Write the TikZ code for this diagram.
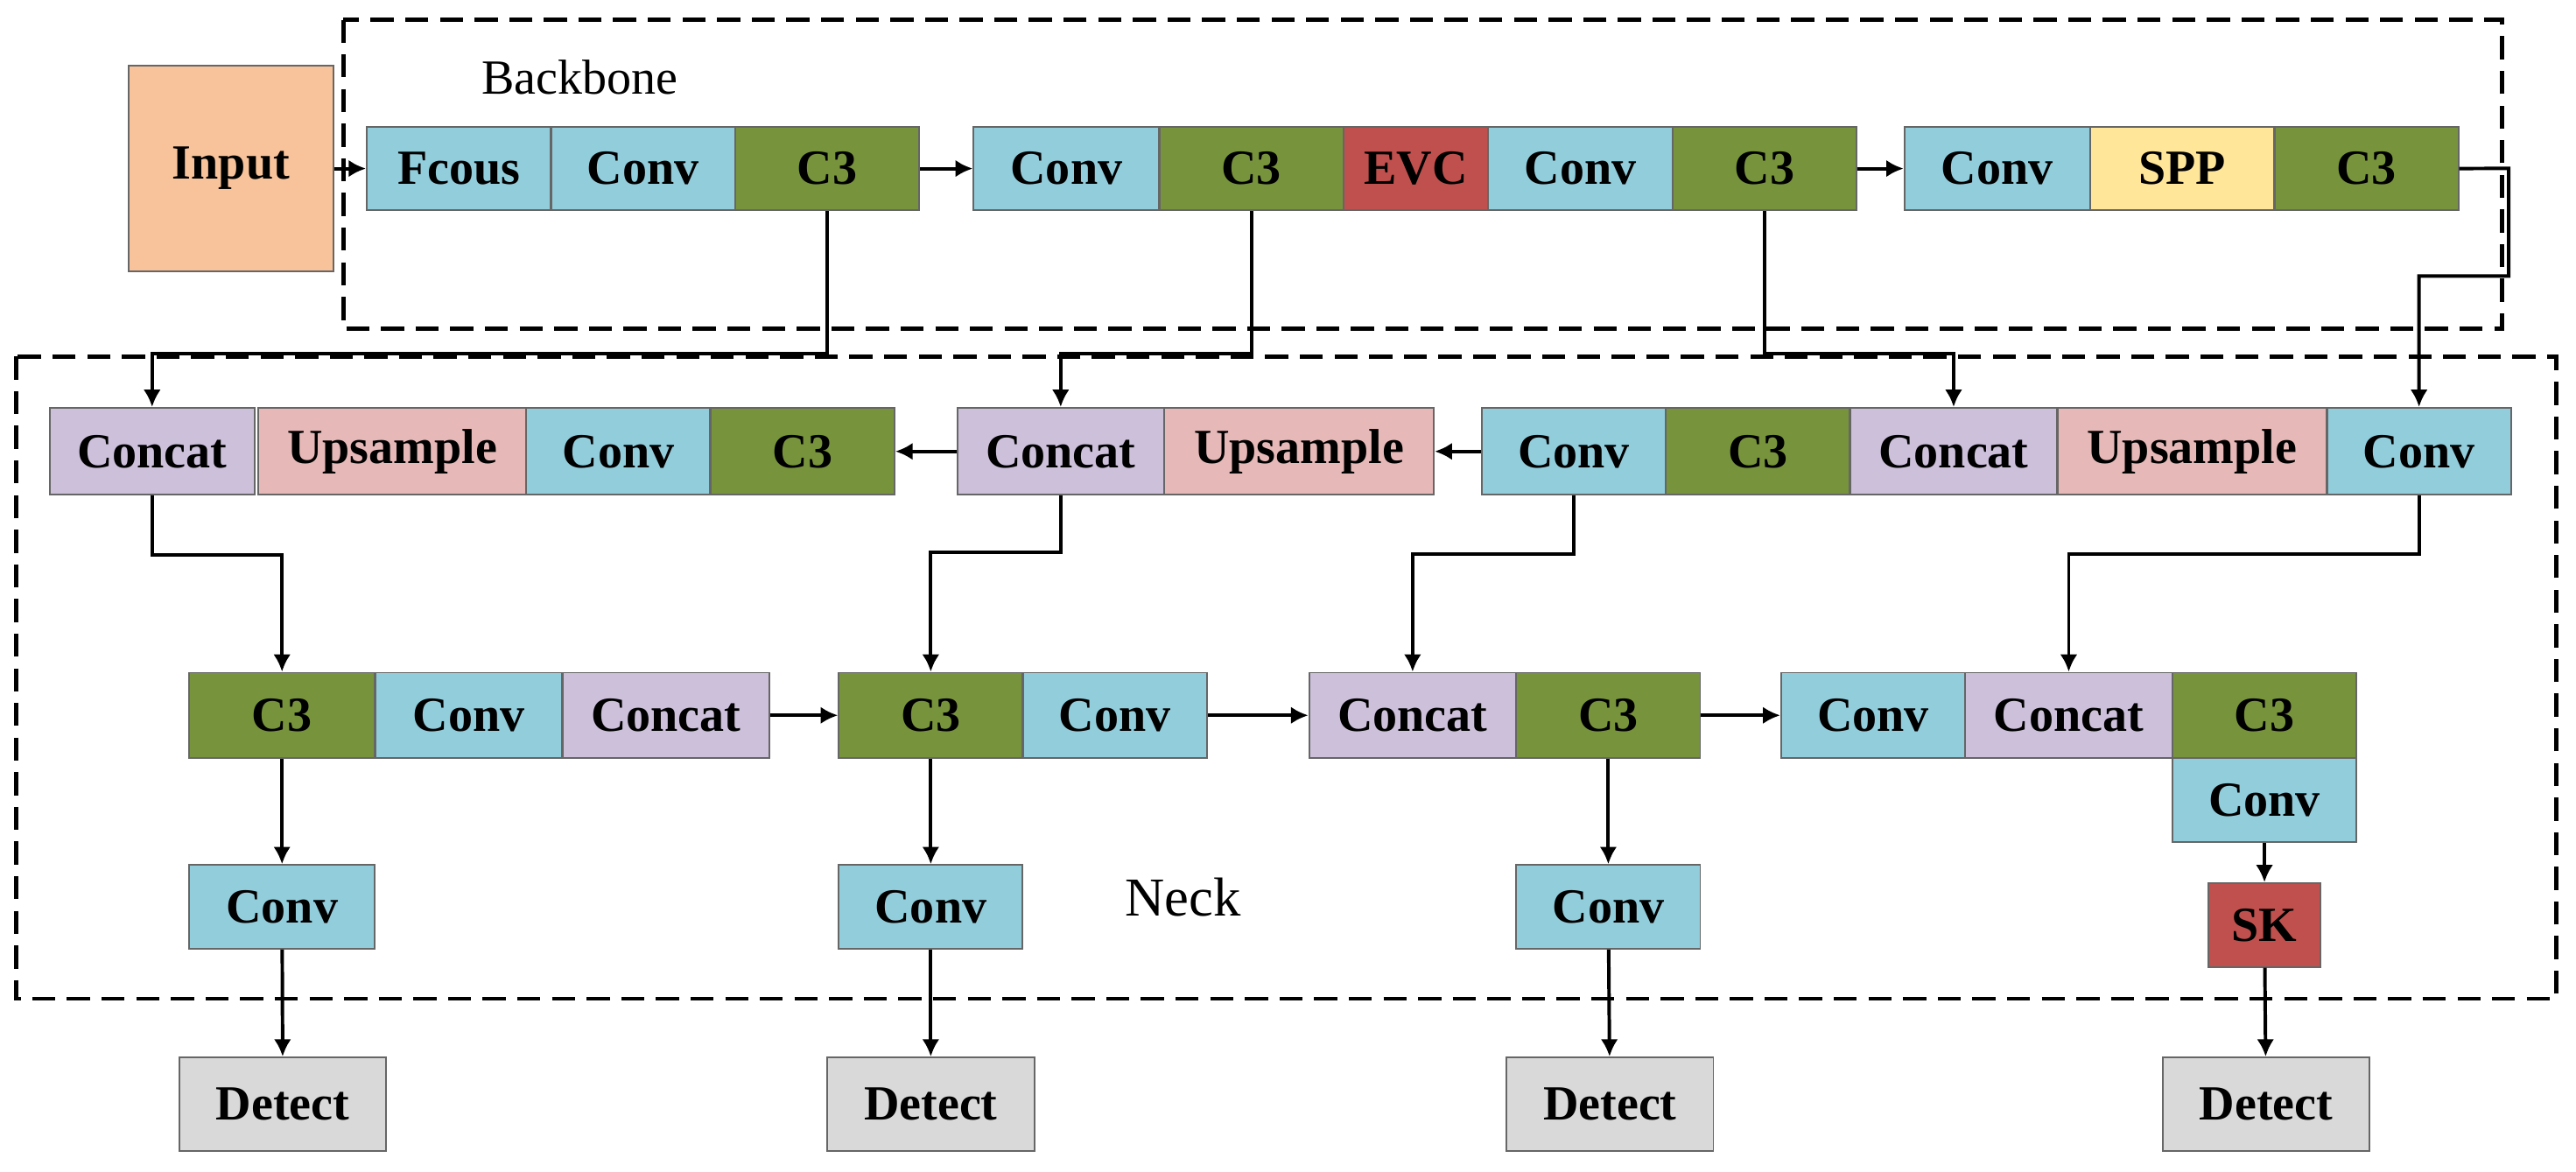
\documentclass[tikz,border=0pt]{standalone}
\usepackage{fontspec}
\setmainfont{Liberation Serif}
\usetikzlibrary{arrows.meta}
\definecolor{cconv}{HTML}{92CDDC}
\definecolor{cc3}{HTML}{77933C}
\definecolor{ccat}{HTML}{CCC0DA}
\definecolor{cup}{HTML}{E6B9B8}
\definecolor{cred}{HTML}{C0504D}
\definecolor{cspp}{HTML}{FFE699}
\definecolor{cdet}{HTML}{D9D9D9}
\definecolor{cin}{HTML}{F8C39B}
\tikzset{
 blk/.style={draw=black!60,line width=0.3pt,inner sep=0pt,font=\fontsize{8.5}{10}\selectfont\bfseries},
 conv/.style={blk,fill=cconv}, c3/.style={blk,fill=cc3}, cat/.style={blk,fill=ccat},
 up/.style={blk,fill=cup}, red/.style={blk,fill=cred}, spp/.style={blk,fill=cspp},
 det/.style={blk,fill=cdet}, inp/.style={blk,fill=cin},
 arr/.style={line width=0.6pt,-{Latex[length=3pt,width=3pt]}},
 dbox/.style={dashed,line width=0.7pt,dash pattern=on 4pt off 2pt}
}
% name x1 x2 y1 y2 style text
\newcommand\blk[7]{\node[#6,minimum width={(#3-#2)*0.01cm},minimum height={(#5-#4)*0.01cm}] (#1) at ({(#2+#3)*0.005},{-(#4+#5)*0.005}) {#7};}
\begin{document}
\begin{tikzpicture}
\useasboundingbox (0,0) rectangle (15.68,-7.13);
\draw[dbox] (2.09,-0.12) rectangle (15.23,-2.00);
\draw[dbox] (0.10,-2.17) rectangle (15.56,-6.08);
\node[font=\fontsize{8.5}{10}\selectfont] (bbl) at (3.53,-0.47) {Backbone};
\node[font=\fontsize{9.5}{11}\selectfont] (nkl) at (7.20,-5.46) {Neck};
\blk{in}{78}{203}{40}{165}{inp}{Input}
\blk{b1}{223}{335}{77}{128}{conv}{Fcous}
\blk{b2}{335}{447}{77}{128}{conv}{Conv}
\blk{b3}{447}{559}{77}{128}{c3}{C3}
\blk{b4}{592}{705}{77}{128}{conv}{Conv}
\blk{b5}{705}{817}{77}{128}{c3}{C3}
\blk{b6}{817}{905}{77}{128}{red}{EVC}
\blk{b7}{905}{1017}{77}{128}{conv}{Conv}
\blk{b8}{1017}{1129}{77}{128}{c3}{C3}
\blk{b9}{1158}{1271}{77}{128}{conv}{Conv}
\blk{b10}{1271}{1383}{77}{128}{spp}{SPP}
\blk{b11}{1383}{1495}{77}{128}{c3}{C3}
% row2
\blk{n1}{30}{155}{248}{301}{cat}{Concat}
\blk{n2}{157}{320}{248}{301}{up}{Upsample}
\blk{n3}{320}{432}{248}{301}{conv}{Conv}
\blk{n4}{432}{544}{248}{301}{c3}{C3}
\blk{n5}{582}{708}{248}{301}{cat}{Concat}
\blk{n6}{708}{872}{248}{301}{up}{Upsample}
\blk{n7}{901}{1013}{248}{301}{conv}{Conv}
\blk{n8}{1013}{1125}{248}{301}{c3}{C3}
\blk{n9}{1125}{1251}{248}{301}{cat}{Concat}
\blk{n10}{1251}{1415}{248}{301}{up}{Upsample}
\blk{n11}{1415}{1527}{248}{301}{conv}{Conv}
% row3
\blk{m1}{115}{228}{409}{461}{c3}{C3}
\blk{m2}{228}{342}{409}{461}{conv}{Conv}
\blk{m3}{342}{468}{409}{461}{cat}{Concat}
\blk{m4}{510}{622}{409}{461}{c3}{C3}
\blk{m5}{622}{734}{409}{461}{conv}{Conv}
\blk{m6}{796}{922}{409}{461}{cat}{Concat}
\blk{m7}{922}{1034}{409}{461}{c3}{C3}
\blk{m8}{1083}{1195}{409}{461}{conv}{Conv}
\blk{m9}{1195}{1321}{409}{461}{cat}{Concat}
\blk{m10}{1321}{1433}{409}{461}{c3}{C3}
\blk{m11}{1321}{1433}{461}{512}{conv}{Conv}
% row4
\blk{k1}{115}{228}{526}{577}{conv}{Conv}
\blk{k2}{510}{622}{526}{577}{conv}{Conv}
\blk{k3}{922}{1034}{526}{577}{conv}{Conv}
\blk{sk}{1343}{1411}{537}{588}{red}{SK}
\blk{d1}{109}{235}{643}{700}{det}{Detect}
\blk{d2}{503}{629}{643}{700}{det}{Detect}
\blk{d3}{916}{1042}{643}{700}{det}{Detect}
\blk{d4}{1315}{1441}{643}{700}{det}{Detect}
% arrows backbone
\draw[arr] (in) -- (b1);
\draw[arr] (b3) -- (b4);
\draw[arr] (b8) -- (b9);
\draw[arr] (b3.south) -- (b3.south |- 0,-2.15) -| (n1.north);
\draw[arr] (b5.south) -- (b5.south |- 0,-2.15) -| (n5.north);
\draw[arr] (b8.south) -- (b8.south |- 0,-2.15) -| (n9.north);
\draw[arr] (b11.east) -- (15.27,-1.025) -- (15.27,-1.68) -| (n11.north);
% row2
\draw[arr] (n5) -- (n4);
\draw[arr] (n7) -- (n6);
\draw[arr] (n1.south) -- (n1.south |- 0,-3.38) -| (m1.north);
\draw[arr] (n5.south) -- (n5.south |- 0,-3.36) -| (m4.north);
\draw[arr] (n7.south) -- (n7.south |- 0,-3.37) -| (m6.north);
\draw[arr] (n11.south) -- (n11.south |- 0,-3.37) -| (m9.north);
% row3
\draw[arr] (m3) -- (m4);
\draw[arr] (m5) -- (m6);
\draw[arr] (m7) -- (m8);
\draw[arr] (m1) -- (k1);
\draw[arr] (m4) -- (k2);
\draw[arr] (m7) -- (k3);
\draw[arr] (m11) -- (sk);
\draw[arr] (k1) -- (d1);
\draw[arr] (k2) -- (d2);
\draw[arr] (k3) -- (d3);
\draw[arr] (sk) -- (d4);
\end{tikzpicture}
\end{document}
